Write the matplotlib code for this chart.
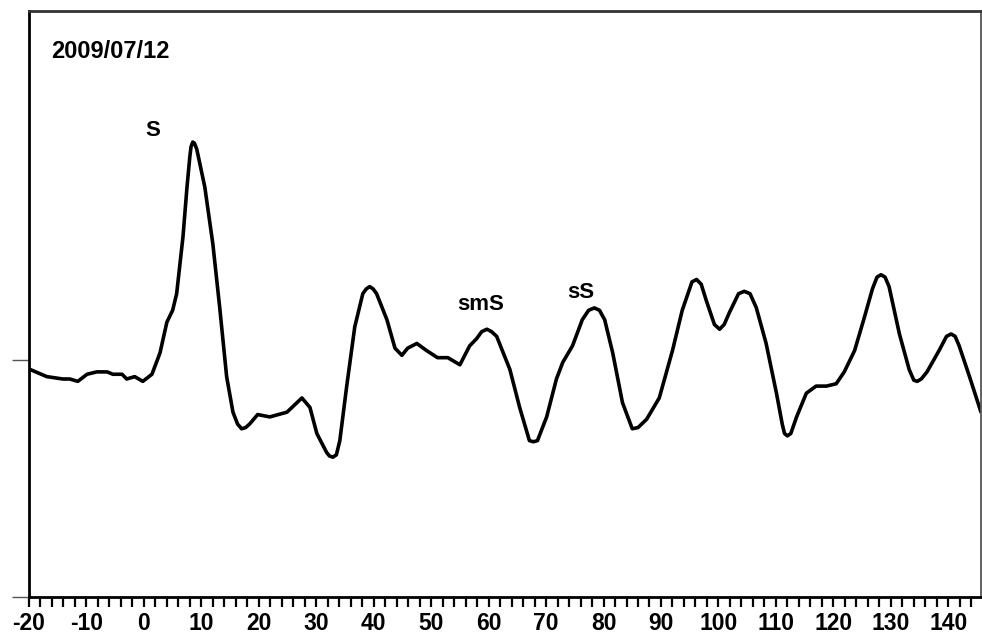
import matplotlib
matplotlib.use("Agg")
import matplotlib.pyplot as plt
from matplotlib.ticker import MultipleLocator

plt.rcParams['font.family'] = ['Liberation Sans', 'DejaVu Sans']
plt.rcParams['axes.unicode_minus'] = False

# time (s) and amplitude
time = [-19.8, -16.9, -14.1, -12.9, -11.5, -9.9, -8.2, -6.4, -5.4, -3.8, -3.0, -1.6, -0.2,
        1.4, 2.8, 4.0, 5.0, 5.7, 6.8, 7.5, 8.0, 8.2, 8.5, 8.8, 9.2, 10.6, 12.0, 13.2, 14.4,
        15.5, 16.3, 17.0, 17.7, 18.4, 19.8, 21.9, 24.9, 27.5, 28.9, 30.1, 31.8, 32.3, 32.9,
        33.5, 34.1, 35.3, 36.7, 38.1, 38.7, 39.3, 39.9, 40.5, 42.3, 43.7, 44.9, 45.9, 47.5,
        49.2, 51.1, 52.9, 55.0, 56.7, 57.9, 58.8, 59.7, 60.5, 61.4, 63.7, 65.4, 67.1, 67.8,
        68.5, 70.1, 71.8, 72.9, 74.6, 76.3, 77.4, 78.4, 79.3, 80.2, 81.6, 83.3, 85.0, 86.0,
        87.5, 89.7, 92.0, 93.7, 95.4, 96.2, 97.0, 97.9, 99.3, 100.2, 101.0, 101.9, 103.5,
        104.5, 105.5, 106.6, 108.3, 110.1, 111.1, 111.5, 112.0, 112.6, 113.6, 115.3, 117.0,
        118.8, 120.5, 121.9, 123.7, 125.4, 126.8, 127.6, 128.3, 129.0, 129.7, 131.5, 133.2,
        134.0, 134.6, 135.3, 136.3, 138.4, 139.7, 140.5, 141.2, 141.9, 143.7, 145.7]
amp = [-0.04, -0.07, -0.08, -0.08, -0.09, -0.06, -0.05, -0.05, -0.06, -0.06, -0.08, -0.07, -0.09,
       -0.06, 0.03, 0.16, 0.21, 0.28, 0.52, 0.73, 0.86, 0.90, 0.92, 0.915, 0.89, 0.73, 0.49, 0.22, -0.07,
       -0.22, -0.27, -0.29, -0.285, -0.27, -0.23, -0.24, -0.22, -0.16, -0.20, -0.31, -0.39, -0.405, -0.41,
       -0.40, -0.34, -0.11, 0.14, 0.28, 0.30, 0.31, 0.30, 0.28, 0.17, 0.05, 0.02, 0.05, 0.07,
       0.04, 0.01, 0.01, -0.02, 0.06, 0.09, 0.12, 0.13, 0.12, 0.10, -0.04, -0.20, -0.34, -0.345,
       -0.34, -0.24, -0.08, -0.01, 0.06, 0.17, 0.21, 0.22, 0.21, 0.17, 0.03, -0.18, -0.29, -0.285,
       -0.25, -0.16, 0.04, 0.21, 0.33, 0.34, 0.32, 0.25, 0.15, 0.13, 0.15, 0.20, 0.28,
       0.29, 0.28, 0.22, 0.07, -0.14, -0.27, -0.31, -0.32, -0.31, -0.24, -0.14, -0.11,
       -0.11, -0.10, -0.05, 0.04, 0.18, 0.30, 0.35, 0.36, 0.35, 0.31, 0.11, -0.04,
       -0.085, -0.09, -0.08, -0.05, 0.04, 0.10, 0.11, 0.10, 0.06, -0.07, -0.22]

phase_names = ['S', 'smS', 'sS']
phase_time = [1.6, 58.6, 76.0]
phase_amp = [0.97, 0.236, 0.287]
date_label = '2009/07/12'

fig = plt.figure(figsize=(9.82, 6.39), dpi=100)
ax = fig.add_axes([29 / 982, 42 / 639, 952 / 982, 586 / 639])

ax.plot(time, amp, color='black', lw=2.6, solid_joinstyle='round', solid_capstyle='round')

ax.set_xlim(-20, 145.7)
ax.set_ylim(-1, 1.473)

ax.xaxis.set_major_locator(MultipleLocator(10))
ax.xaxis.set_minor_locator(MultipleLocator(2))
ax.tick_params(axis='x', which='both', direction='out', length=7, width=1.6, color='black')
ax.tick_params(axis='x', which='major', labelsize=16.5, pad=4)
for lbl in ax.get_xticklabels():
    lbl.set_fontweight('bold')

ax.set_yticks([-1, 0])
ax.set_yticklabels([])
ax.tick_params(axis='y', direction='out', length=12, width=1.0, color='#555555')

ax.spines['left'].set_linewidth(2)
ax.spines['bottom'].set_linewidth(2)
ax.spines['top'].set_linewidth(2)
ax.spines['top'].set_color('#333333')
ax.spines['right'].set_linewidth(1.3)
ax.spines['right'].set_color('#555555')

ax.text(-5.9, 1.30, date_label, fontsize=17, fontweight='bold', ha='center', va='center')
for name, t, a in zip(phase_names, phase_time, phase_amp):
    ax.text(t, a, name, fontsize=16, fontweight='bold', ha='center', va='center')

fig.savefig('out.png', dpi=100)
